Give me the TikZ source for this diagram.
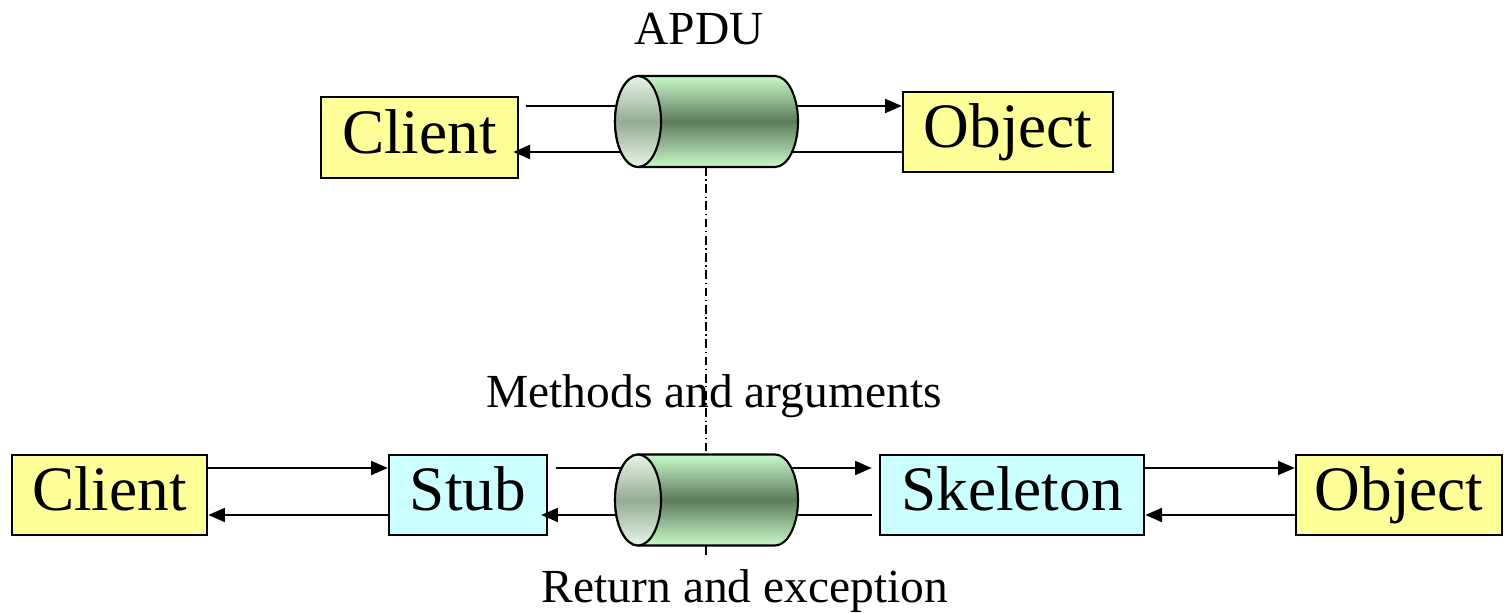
\documentclass[tikz,border=0pt]{standalone}
\usepackage{fontspec}
\setmainfont{Liberation Serif}
\usetikzlibrary{arrows.meta,calc}

\definecolor{boxyellow}{HTML}{FFFF99}
\definecolor{boxcyan}{HTML}{CCFFFF}
\definecolor{pipelight}{HTML}{C8FAC8}
\definecolor{pipedark}{HTML}{5E7A5E}
\definecolor{capelight}{HTML}{E6F6E6}
\definecolor{capedark}{HTML}{97AB97}

% shaded pipe: #1 = x of left cap centre, #2 = y of axis
\newcommand\drawpipe[2]{%
  \path[draw, line width=0.6pt, top color=pipelight, bottom color=pipelight, middle color=pipedark]
    (#1,#2+45.5) -- (#1+137,#2+45.5)
    arc[start angle=90, end angle=-90, x radius=23, y radius=45.5]
    -- (#1,#2-45.5)
    arc[start angle=270, end angle=90, x radius=23, y radius=45.5] -- cycle;
  \path[draw, line width=0.6pt, top color=capelight, bottom color=capelight, middle color=capedark]
    (#1,#2) ellipse[x radius=23, y radius=45.5];
}

\begin{document}
\begin{tikzpicture}[x=0.01cm, y=0.01cm,
  box/.style={draw, line width=0.6pt, inner sep=0pt, minimum height=0.8cm,
              text height=12pt, text depth=3pt, font=\fontsize{18}{20}\selectfont},
  ybox/.style={box, fill=boxyellow},
  cbox/.style={box, fill=boxcyan},
  arr/.style={line width=0.8pt, -{Triangle[length=4.8pt, width=3.9pt]}},
  lbl/.style={anchor=base, inner sep=0pt, font=\fontsize{13.5}{15}\selectfont},
  axisline/.style={line width=0.35pt, dash pattern=on 2.5pt off 1pt on 0.4pt off 1pt},
]
\useasboundingbox (0,0) rectangle (1504,613);

% protocol axis behind everything
\coordinate (axtop) at (706,446);
\coordinate (axbot) at (706,58);
\draw[axisline] (axtop) -- (axbot);

% upper scenario
\node[ybox, minimum width=1.97cm, minimum height=0.81cm] (c1) at (419.5,475.5) {Client};
\node[ybox, minimum width=2.10cm] (o1) at (1008,481) {Object};

% lower scenario
\node[ybox, minimum width=1.95cm] (c2) at (109.5,118) {Client};
\node[cbox, minimum width=1.58cm] (st) at (468,118) {Stub};
\node[cbox, minimum width=2.64cm] (sk) at (1012,118) {Skeleton};
\node[ybox, minimum width=2.06cm] (o2) at (1399,118) {Object};

% labels
\node[lbl] (apdu) at (699,568) {APDU};
\node[lbl] (meth) at (714,205) {Methods and arguments};
\node[lbl] (ret)  at (745,10) {Return and exception};

% upper connectors
\draw[arr] ($(c1.east |- 0,507)+(7,0)$) -- (o1.west |- 0,507);
\draw[arr] (o1.west |- 0,461) -- ($(c1.east |- 0,461)+(-6,0)$);

% lower connectors
\draw[arr] (c2.east |- 0,145) -- (st.west |- 0,145);
\draw[arr] (st.west |- 0,98) -- (c2.east |- 0,98);
\draw[arr] ($(st.east |- 0,145)+(8,0)$) -- ($(sk.west |- 0,145)+(-7,0)$);
\draw[arr] ($(sk.west |- 0,98)+(-7,0)$) -- ($(st.east |- 0,98)+(-7,0)$);
\draw[arr] (sk.east |- 0,145) -- (o2.west |- 0,145);
\draw[arr] (o2.west |- 0,98) -- (sk.east |- 0,98);

% pipes on top of the lines
\drawpipe{638}{491.5}
\drawpipe{638}{113}
\end{tikzpicture}
\end{document}
